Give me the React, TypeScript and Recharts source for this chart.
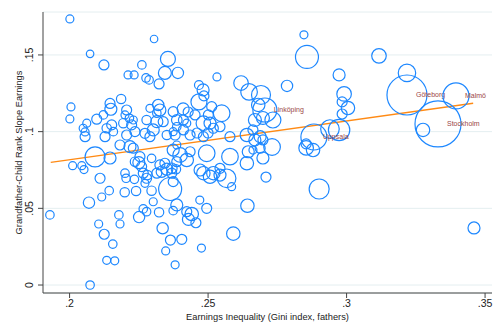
import { CartesianGrid, ReferenceLine, Scatter, ScatterChart, XAxis, YAxis, ZAxis } from "recharts";

// one entry per municipality, rows of 10 in the same order in every array
const gini = [
  0.2001, 0.2305, 0.2074, 0.2124, 0.2261, 0.2355, 0.2211, 0.2233, 0.2276, 0.2287,
  0.2323, 0.2344, 0.2391, 0.2532, 0.2467, 0.2482, 0.2485, 0.2619, 0.2648, 0.2691,
  0.2846, 0.2857, 0.3117, 0.2973, 0.3218, 0.2785, 0.2991, 0.2005, 0.2001, 0.1929,
  0.2011, 0.2044, 0.2052, 0.2074, 0.2186, 0.2146, 0.2149, 0.2122, 0.2098, 0.2062,
  0.2049, 0.2056, 0.2206, 0.22, 0.2216, 0.223, 0.2194, 0.2224, 0.2152, 0.2134,
  0.2158, 0.2236, 0.2206, 0.232, 0.2326, 0.229, 0.2315, 0.2278, 0.2315, 0.2338,
  0.2374, 0.2387, 0.2302, 0.2351, 0.2381, 0.2272, 0.2453, 0.2513, 0.2501, 0.2549,
  0.2483, 0.2507, 0.2519, 0.2543, 0.2411, 0.2423, 0.2387, 0.2411, 0.2435, 0.2483,
  0.2579, 0.2467, 0.2681, 0.2698, 0.264, 0.2688, 0.2128, 0.2056, 0.229, 0.2374,
  0.246, 0.25, 0.2734, 0.2669, 0.2662, 0.2984, 0.3005, 0.2984, 0.2973, 0.294,
  0.2854, 0.2879, 0.2854, 0.3276, 0.2669, 0.2698, 0.2731, 0.2662, 0.2698, 0.2709,
  0.2901, 0.346, 0.2092, 0.2146, 0.211, 0.207, 0.2116, 0.2143, 0.2105, 0.2125,
  0.2156, 0.2134, 0.2163, 0.2178, 0.2182, 0.2251, 0.2266, 0.2278, 0.2323, 0.2336,
  0.2364, 0.2405, 0.2347, 0.2381, 0.2476, 0.2591, 0.2642, 0.2374, 0.2387, 0.2423,
  0.2441, 0.2429, 0.2456, 0.247, 0.2199, 0.224, 0.2296, 0.2363, 0.2374, 0.2585,
  0.264, 0.2567, 0.2579, 0.2495, 0.2471, 0.2519, 0.2543, 0.22, 0.2204, 0.2234,
  0.2272, 0.225, 0.226, 0.2281, 0.2315, 0.2333, 0.2351, 0.2369, 0.2369, 0.2384,
  0.2326, 0.2344, 0.2399, 0.2423, 0.2218, 0.223, 0.2182, 0.2236, 0.2254, 0.2296,
  0.2387, 0.2387, 0.2374, 0.2435, 0.2645, 0.2688, 0.2483, 0.2507, 0.2543, 0.2495,
  0.2302, 0.2266, 0.2278, 0.241, 0.2428,
];

const slope = [
  0.1735, 0.1604, 0.1507, 0.1435, 0.1435, 0.1474, 0.137, 0.137, 0.135, 0.1337,
  0.1311, 0.1383, 0.1383, 0.1357, 0.1304, 0.1272, 0.1233, 0.1317, 0.1259, 0.1239,
  0.1631, 0.1487, 0.1494, 0.137, 0.1383, 0.1298, 0.1246, 0.1161, 0.1083, 0.0457,
  0.0778, 0.0778, 0.0753, 0.0, 0.1213, 0.1184, 0.1146, 0.1109, 0.1081, 0.1055,
  0.1022, 0.0998, 0.1141, 0.1109, 0.1087, 0.1076, 0.1055, 0.1044, 0.1044, 0.1022,
  0.1, 0.1, 0.0978, 0.1174, 0.1141, 0.1152, 0.112, 0.1076, 0.1065, 0.1065,
  0.113, 0.1076, 0.1011, 0.0978, 0.0978, 0.0989, 0.1109, 0.1163, 0.1109, 0.112,
  0.1055, 0.1055, 0.1022, 0.1032, 0.1076, 0.1055, 0.1032, 0.1011, 0.0978, 0.0967,
  0.0967, 0.1194, 0.1174, 0.1089, 0.0978, 0.0967, 0.0967, 0.0967, 0.0967, 0.1,
  0.0991, 0.0991, 0.1076, 0.1076, 0.1011, 0.1194, 0.1154, 0.1115, 0.1011, 0.1017,
  0.0894, 0.088, 0.092, 0.1011, 0.0946, 0.0946, 0.09, 0.088, 0.0828, 0.0704,
  0.0626, 0.0372, 0.0835, 0.0828, 0.0696, 0.0537, 0.0574, 0.0615, 0.0398, 0.0331,
  0.0267, 0.0161, 0.0158, 0.0457, 0.0398, 0.0443, 0.0496, 0.0478, 0.0474, 0.037,
  0.0293, 0.0298, 0.0222, 0.0132, 0.0241, 0.0335, 0.0517, 0.0485, 0.0522, 0.0478,
  0.0463, 0.0428, 0.0406, 0.0554, 0.0605, 0.0613, 0.0615, 0.0626, 0.0674, 0.0641,
  0.0794, 0.0696, 0.0837, 0.0859, 0.075, 0.0729, 0.0717, 0.0729, 0.0696, 0.0689,
  0.0663, 0.0798, 0.0772, 0.0717, 0.0729, 0.0739, 0.0755, 0.0761, 0.0729, 0.0755,
  0.0783, 0.0794, 0.0848, 0.0815, 0.0902, 0.0892, 0.0913, 0.0804, 0.0837, 0.0826,
  0.0913, 0.0804, 0.088, 0.0869, 0.0869, 0.0892, 0.0729, 0.0706, 0.0761, 0.05,
  0.0543, 0.0729, 0.0696, 0.1148, 0.1128,
];

// population weight (thousands)
const pop = [
  16, 14, 14, 25, 18, 56, 16, 16, 18, 18,
  25, 42, 32, 16, 20, 36, 25, 53, 69, 90,
  16, 132, 53, 36, 76, 32, 53, 16, 16, 18,
  16, 16, 16, 18, 22, 25, 36, 18, 25, 16,
  16, 16, 25, 16, 18, 16, 22, 25, 25, 22,
  18, 25, 25, 32, 36, 16, 18, 22, 36, 25,
  25, 28, 36, 22, 25, 25, 25, 25, 25, 69,
  53, 36, 25, 25, 25, 16, 18, 25, 25, 25,
  25, 64, 45, 42, 45, 36, 25, 25, 25, 16,
  25, 25, 64, 42, 25, 25, 45, 25, 114, 86,
  53, 45, 25, 45, 36, 25, 69, 16, 36, 25,
  100, 36, 100, 36, 25, 32, 16, 18, 16, 25,
  18, 16, 16, 18, 16, 32, 18, 18, 22, 32,
  25, 25, 16, 16, 16, 45, 45, 18, 36, 25,
  45, 36, 25, 16, 22, 22, 22, 132, 25, 16,
  45, 86, 69, 69, 36, 45, 36, 18, 18, 18,
  16, 36, 25, 22, 25, 32, 36, 28, 25, 22,
  25, 25, 53, 45, 36, 25, 25, 22, 25, 18,
  16, 25, 36, 25, 36, 25, 45, 45, 25, 25,
  16, 25, 25, 36, 25,
];

const cityNames = ["Linköping", "Uppsala", "Göteborg", "Malmö", "Stockholm"];
const cityGini = [0.2705, 0.2882, 0.3218, 0.3395, 0.333];
const citySlope = [0.1141, 0.0965, 0.1239, 0.1233, 0.105];
const cityPop = [144, 169, 400, 169, 529];

// linear fit end points
const fitGini = [0.1932, 0.3457];
const fitSlope = [0.08, 0.1185];

const xTicks = [0.2, 0.25, 0.3, 0.35];
const yTicks = [0, 0.05, 0.1, 0.15];

const data = [
  ...gini.map((g, i) => ({ gini: g, slope: slope[i], pop: pop[i], name: "" })),
  ...cityNames.map((name, i) => ({ gini: cityGini[i], slope: citySlope[i], pop: cityPop[i], name })),
];

const fmt = (v: number) => (v === 0 ? "0" : String(v).replace(/^0/, ""));

function Bubble(props: any) {
  const { cx, cy, payload } = props;
  const r = props.width ? props.width / 2 : Math.sqrt((props.size || 0) / Math.PI);
  return (
    <g>
      <circle cx={cx} cy={cy} r={r} fill="none" stroke="#1e88ff" strokeWidth={1.2} />
      {payload && payload.name ? (
        <text x={cx + 9} y={cy} dy="0.35em" fontSize={7} fill="#9b4646">
          {payload.name}
        </text>
      ) : null}
    </g>
  );
}

function YTick(props: any) {
  const { x, y, payload } = props;
  const tx = x - 3;
  return (
    <text x={tx} y={y} transform={`rotate(-90, ${tx}, ${y})`} textAnchor="middle" fontSize={10.5} fill="#222">
      {fmt(payload.value)}
    </text>
  );
}

export default function App() {
  return (
    <div
      style={{
        position: "fixed",
        left: 0,
        top: 0,
        width: 504,
        height: 336,
        background: "#fff",
        fontFamily: "'Liberation Sans', Arial, sans-serif",
      }}
    >
      <ScatterChart width={504} height={336} margin={{ top: 12, right: 12, bottom: 0, left: 0 }}>
        <CartesianGrid vertical={false} stroke="#e4eef0" />
        <XAxis
          type="number"
          dataKey="gini"
          domain={[0.1904, 0.3525]}
          ticks={xTicks}
          interval={0}
          allowDataOverflow
          tickFormatter={fmt}
          height={43}
          tickSize={5}
          tickMargin={2}
          stroke="#444"
          tick={{ fill: "#222", fontSize: 10.5 }}
          label={{
            value: "Earnings Inequality (Gini index, fathers)",
            position: "insideBottom",
            offset: 16,
            fontSize: 9.3,
            fill: "#222",
          }}
        />
        <YAxis
          type="number"
          dataKey="slope"
          domain={[-0.0052, 0.178]}
          ticks={yTicks}
          interval={0}
          allowDataOverflow
          width={43}
          tickSize={5}
          stroke="#444"
          tick={<YTick />}
          label={{
            value: "Grandfather-Child Rank Slope Earnings",
            angle: -90,
            position: "insideLeft",
            offset: 19,
            fontSize: 9.3,
            fill: "#222",
            style: { textAnchor: "middle" },
          }}
        />
        <ZAxis type="number" dataKey="pop" domain={[0, 900]} range={[0, 900 * Math.PI]} />
        <Scatter data={data} shape={Bubble} isAnimationActive={false} />
        <ReferenceLine
          segment={[
            { x: fitGini[0], y: fitSlope[0] },
            { x: fitGini[1], y: fitSlope[1] },
          ]}
          stroke="#ff8a14"
          strokeWidth={1.3}
        />
      </ScatterChart>
    </div>
  );
}
